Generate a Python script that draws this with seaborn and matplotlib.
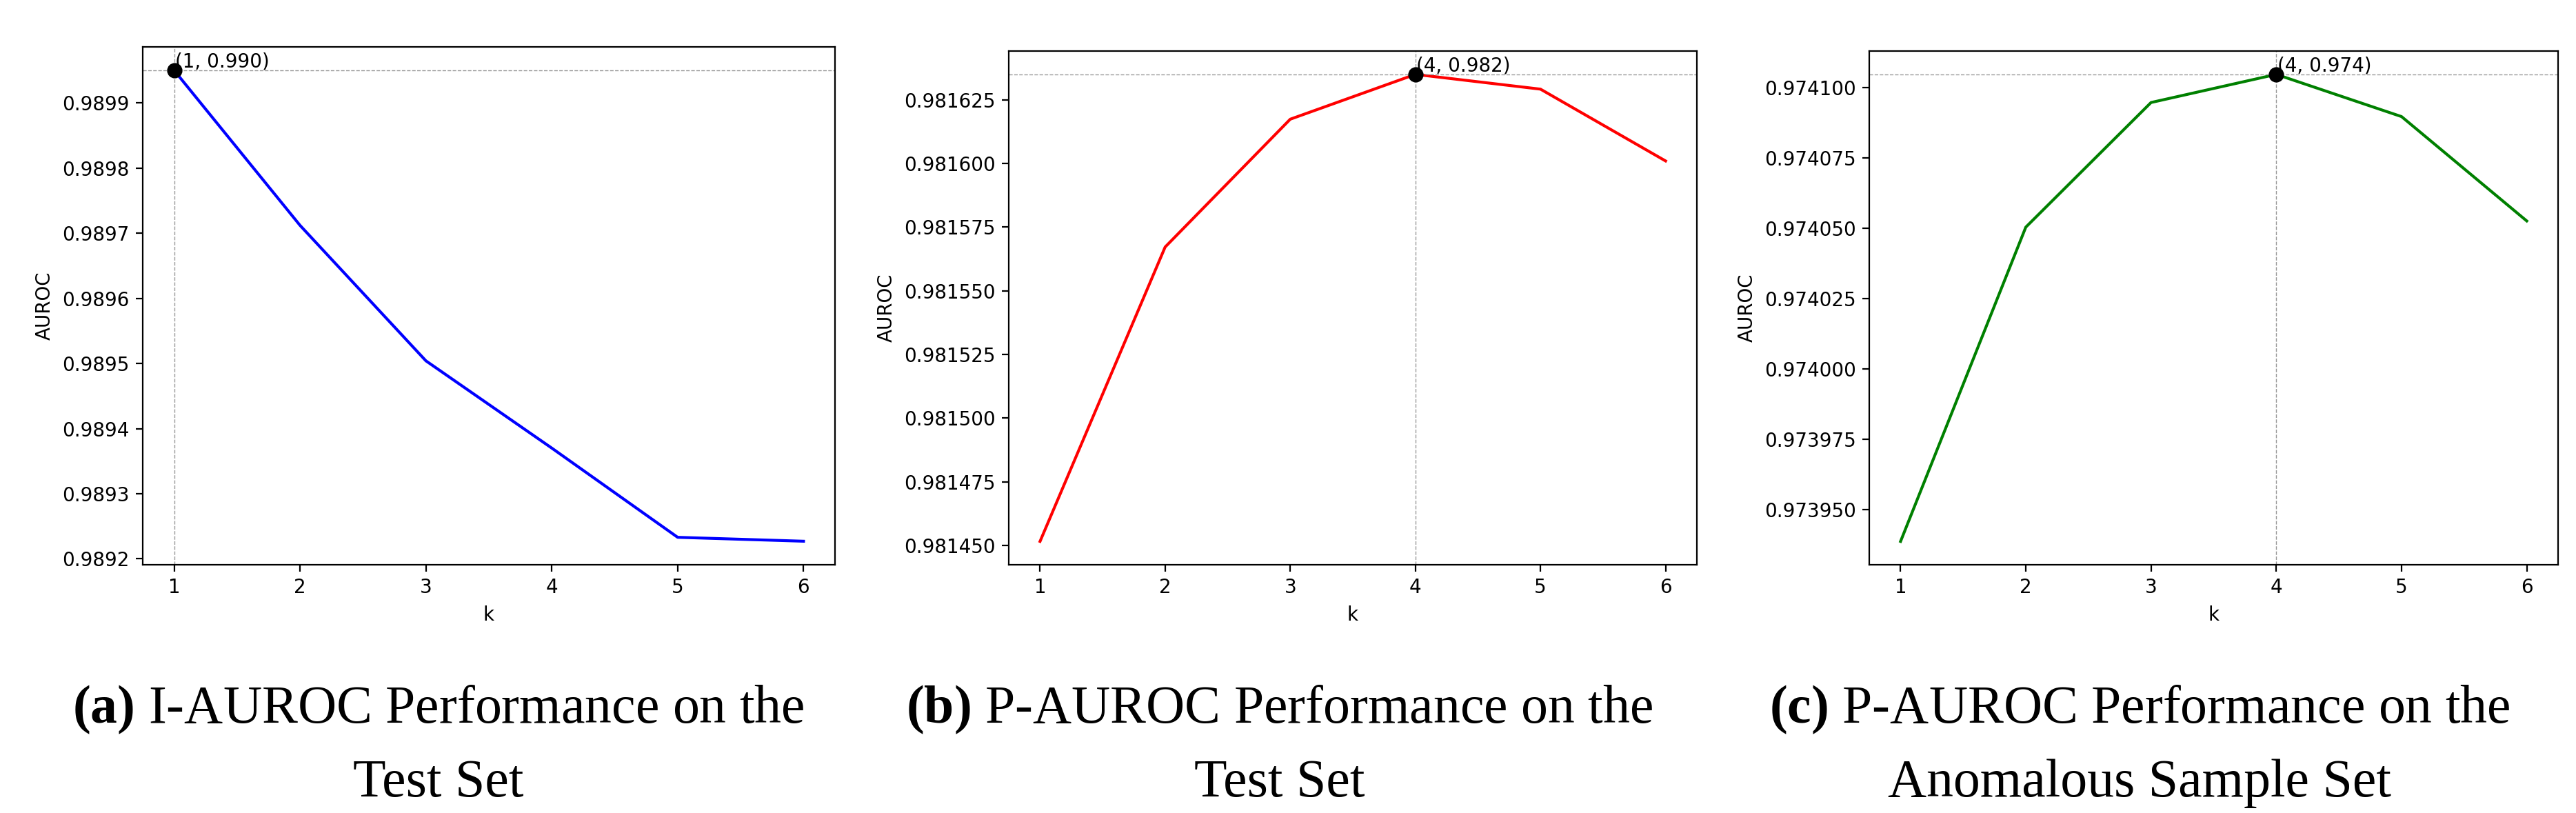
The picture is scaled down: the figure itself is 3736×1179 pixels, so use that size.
import matplotlib
matplotlib.use("Agg")
import matplotlib.pyplot as plt
import seaborn as sns
import pandas as pd

# ---- data ----
ks = [1, 2, 3, 4, 5, 6]
i_auroc_test = [0.989950, 0.989712, 0.989504, 0.989370, 0.989233, 0.989227]
p_auroc_test = [0.9814516, 0.9815672, 0.9816174, 0.9816350, 0.9816292, 0.9816010]
p_auroc_anomalous = [0.9739386, 0.9740503, 0.9740946, 0.9741046, 0.9740896, 0.9740525]

series = [i_auroc_test, p_auroc_test, p_auroc_anomalous]
colors = ["blue", "red", "green"]
caption_tags = ["(a)", "(b)", "(c)"]
caption_line1 = ["I-AUROC Performance on the", "P-AUROC Performance on the", "P-AUROC Performance on the"]
caption_line2 = ["Test Set", "Test Set", "Anomalous Sample Set"]

plt.rcParams["mathtext.fontset"] = "custom"
plt.rcParams["mathtext.rm"] = "Liberation Serif"
plt.rcParams["mathtext.bf"] = "Liberation Serif:bold"

W, H = 3737, 1179
fig = plt.figure(figsize=(W / 200, H / 200), dpi=200)

# axes boxes in pixel coords (left, right, top, bottom)
boxes = [(207, 1211, 68, 819), (1463, 2461, 74, 819), (2711, 3710, 74, 819)]
caption_cx = [636, 1856, 3103]

for i, (vals, col, box) in enumerate(zip(series, colors, boxes)):
    l, r, t, b = box
    ax = fig.add_axes([l / W, 1 - b / H, (r - l) / W, (b - t) / H])
    df = pd.DataFrame({"k": ks, "AUROC": vals})
    sns.lineplot(data=df, x="k", y="AUROC", color=col, linewidth=1.5, ax=ax)
    imax = max(range(len(vals)), key=lambda j: vals[j])
    kx, vy = ks[imax], vals[imax]
    ax.axhline(vy, color="gray", linestyle="--", linewidth=0.5, alpha=0.8)
    ax.axvline(kx, color="gray", linestyle="--", linewidth=0.5, alpha=0.8)
    ax.plot([kx], [vy], "o", color="black", markersize=7)
    ax.annotate(f"({kx}, {vy:.3f})", xy=(kx, vy), xytext=(0.5, 1.5),
                textcoords="offset points", fontsize=10)
    ax.set_xticks(ks)
    ax.ticklabel_format(axis="y", useOffset=False, style="plain")
    ax.set_xlabel("k")
    ax.set_ylabel("AUROC")

    cx = caption_cx[i] / W
    fig.text(cx, 1 - 1048 / H, r"$\mathbf{" + caption_tags[i] + "}$ " + caption_line1[i],
             ha="center", va="baseline", fontsize=28, family="Liberation Serif")
    fig.text(cx, 1 - 1155 / H, caption_line2[i],
             ha="center", va="baseline", fontsize=28, family="Liberation Serif")

fig.savefig("out.png", dpi=200)
